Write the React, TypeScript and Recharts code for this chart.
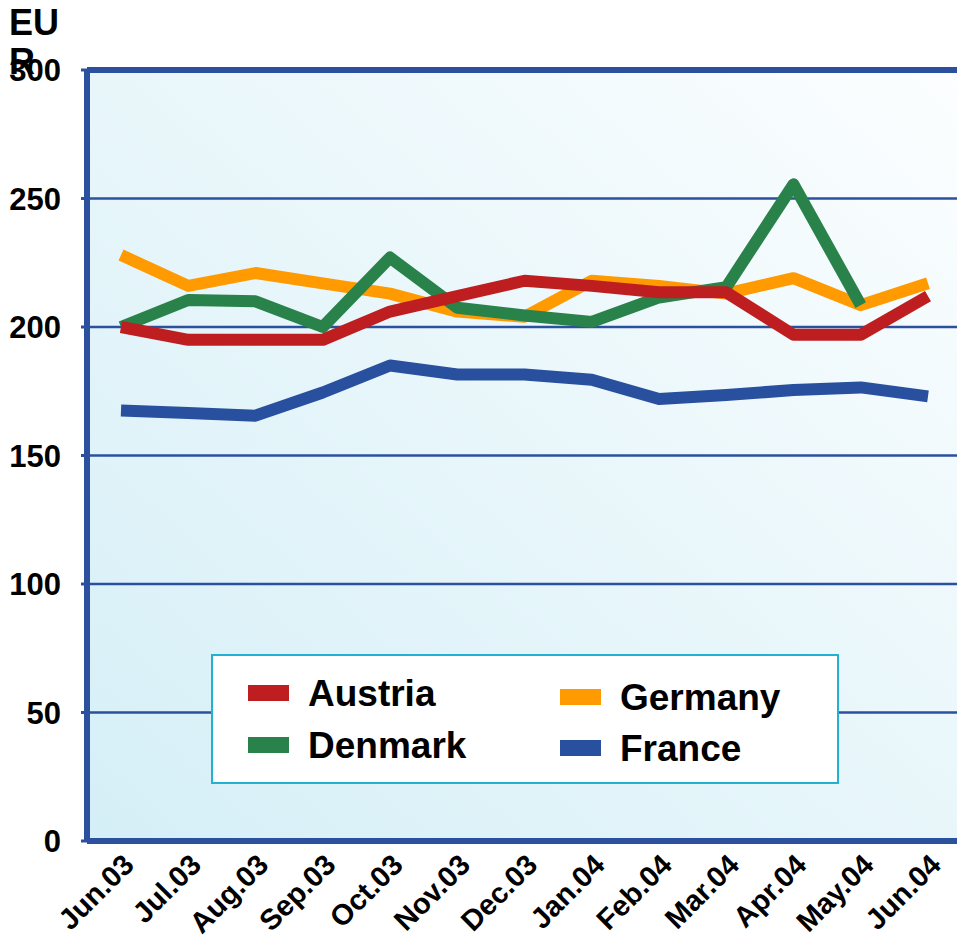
import {
  LineChart,
  Line,
  XAxis,
  YAxis,
  CartesianGrid,
  ReferenceLine,
  Legend,
} from "recharts";

const months = [
  "Jun.03", "Jul.03", "Aug.03", "Sep.03", "Oct.03", "Nov.03", "Dec.03",
  "Jan.04", "Feb.04", "Mar.04", "Apr.04", "May.04", "Jun.04",
];
const austria = [200, 195, 195, 195, 206, 212, 218, 216, 213.5, 213.5, 197, 197, 212];
const germany = [228, 216, 221, 217, 213, 206, 204, 218, 216, 213, 219, 208.5, 217];
const denmark = [200, 210.5, 210, 200, 227, 207.5, 204.5, 202, 211.5, 215.5, 255.5, 208.5, null];
const france = [167.5, 166.5, 165.5, 174.5, 185, 181.5, 181.5, 179.5, 172, 173.5, 175.5, 176.5, 173];
const yTicks = [0, 50, 100, 150, 200, 250, 300];
const edgeTicks = [0, 1, 2, 3, 4, 5, 6, 7, 8, 9, 10, 11, 12, 13];

const AXIS = "#2a509e";
const COLORS: Record<string, string> = {
  Austria: "#be1e1f",
  Germany: "#ff9a00",
  Denmark: "#288249",
  France: "#28509e",
};

const data = months.map((m, i) => ({
  month: m,
  Austria: austria[i],
  Germany: germany[i],
  Denmark: denmark[i],
  France: france[i],
}));

// legend slots: [name, left, rowCenter] inside the box
const legendSlots: [string, number, number][] = [
  ["Austria", 35, 37],
  ["Denmark", 35, 89],
  ["Germany", 347, 41],
  ["France", 347, 92],
];

function MonthTick({ x, y, payload }: any) {
  return (
    <g transform={`translate(${x},${y})`}>
      <text
        textAnchor="end"
        dy="0.71em"
        fontSize={29}
        fontWeight={700}
        fill="#000"
        transform="rotate(-45)"
      >
        {payload.value}
      </text>
    </g>
  );
}

function EurLabel() {
  return (
    <text x={9} y={35} fontSize={36} fontWeight={700} fill="#000">
      <tspan x={9}>EU</tspan>
      <tspan x={9} dy={39}>R</tspan>
    </text>
  );
}

function LegendBox() {
  return (
    <div
      style={{
        position: "relative",
        width: 624,
        height: 126,
        background: "#fff",
        border: "2px solid #22b0d3",
      }}
    >
      {legendSlots.map(([name, left, cy]) => (
        <div
          key={name}
          style={{
            position: "absolute",
            left,
            top: cy - 20,
            height: 40,
            display: "flex",
            alignItems: "center",
          }}
        >
          <div
            style={{ width: 41, height: 16, background: COLORS[name], marginRight: 19 }}
          />
          <span style={{ fontSize: 37, fontWeight: 700, color: "#000", lineHeight: 1 }}>
            {name}
          </span>
        </div>
      ))}
    </div>
  );
}

export default function App() {
  return (
    <div
      style={{
        position: "absolute",
        left: 0,
        top: 0,
        width: 957,
        height: 942,
        overflow: "hidden",
        background: "#fff",
        fontFamily: "'Liberation Sans', Arial, sans-serif",
      }}
    >
      <LineChart
        width={975}
        height={942}
        data={data}
        margin={{ top: 70, right: 13, bottom: 0, left: 0 }}
      >
        <defs>
          <linearGradient id="plotBg" x1="0" y1="1" x2="1" y2="0">
            <stop offset="0%" stopColor="#d5eff7" />
            <stop offset="55%" stopColor="#eaf7fb" />
            <stop offset="100%" stopColor="#fcfeff" />
          </linearGradient>
        </defs>
        <CartesianGrid
          vertical={false}
          fill="url(#plotBg)"
          stroke={AXIS}
          strokeWidth={2.5}
        />
        <XAxis
          xAxisId="edges"
          type="number"
          domain={[0, 13]}
          ticks={edgeTicks}
          tick={false}
          axisLine={false}
          tickLine={{ stroke: AXIS, strokeWidth: 3 }}
          tickSize={5}
          height={0}
        />
        <XAxis
          dataKey="month"
          interval={0}
          padding={{ left: 34, right: 34 }}
          axisLine={{ stroke: AXIS, strokeWidth: 6 }}
          tickLine={false}
          tickSize={6}
          tickMargin={5}
          tick={<MonthTick />}
          height={101}
        />
        <YAxis
          domain={[0, 300]}
          ticks={yTicks}
          interval={0}
          width={87}
          axisLine={{ stroke: AXIS, strokeWidth: 6 }}
          tickLine={{ stroke: AXIS, strokeWidth: 3 }}
          tickSize={6}
          tickMargin={20}
          tick={{ fontSize: 31, fontWeight: 700, fill: "#000" }}
          label={<EurLabel />}
        />
        <ReferenceLine y={300} stroke={AXIS} strokeWidth={6} />
        {["Germany", "Denmark", "Austria", "France"].map((name) => (
          <Line
            key={name}
            dataKey={name}
            stroke={COLORS[name]}
            strokeWidth={12}
            strokeLinejoin="round"
            dot={false}
            activeDot={false}
            isAnimationActive={false}
          />
        ))}
        <Legend
          verticalAlign="middle"
          layout="horizontal"
          content={<LegendBox />}
          wrapperStyle={{ left: 211, top: 654, width: 628, height: 130 }}
        />
      </LineChart>
    </div>
  );
}
